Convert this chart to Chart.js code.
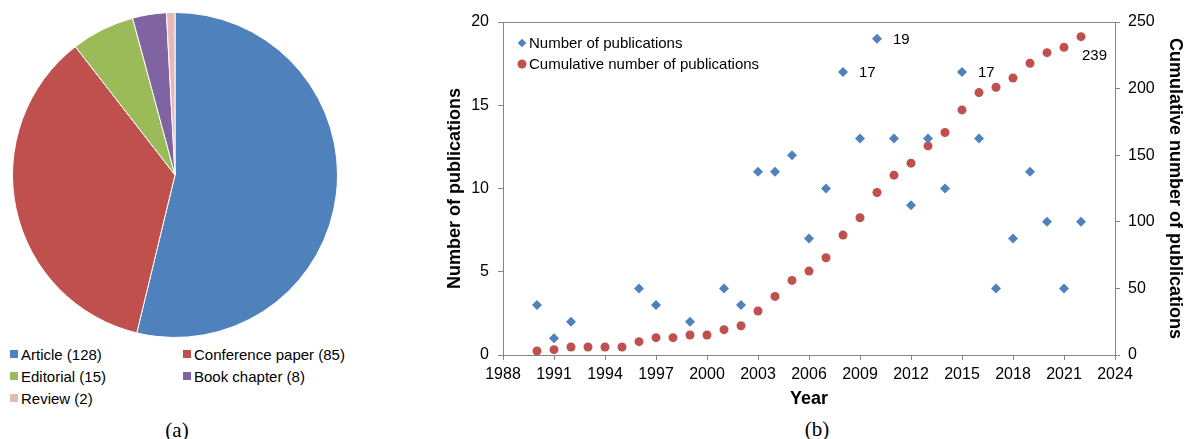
<!DOCTYPE html>
<html>
<head>
<meta charset="utf-8">
<script src="https://cdn.jsdelivr.net/npm/chart.js@4.4.1/dist/chart.umd.min.js"></script>
<style>
  html, body { margin: 0; padding: 0; background: #fff; }
  body { width: 1193px; height: 439px; position: relative; overflow: hidden; font-family: "Liberation Sans", Arial, sans-serif; }
  #pie { position: absolute; left: 12px; top: 12px; }
  #scatter { position: absolute; left: 440px; top: 0; }
  .leg { position: absolute; height: 18px; display: flex; align-items: center; font-size: 15px; color: #000; white-space: nowrap; }
  .sw { width: 8px; height: 8px; margin-right: 3px; flex: none; }
  .cap { position: absolute; font-family: "Liberation Serif", "Times New Roman", serif; font-size: 21px; color: #000; transform: translate(-50%, -50%); white-space: nowrap; }
</style>
</head>
<body>
<canvas id="pie" width="326" height="326" style="width:326px;height:326px"></canvas>
<canvas id="scatter" width="750" height="414" style="width:750px;height:414px"></canvas>
<div id="pieLegend"></div>
<div class="cap" style="left:177px;top:430px">(a)</div>
<div class="cap" style="left:817px;top:429px">(b)</div>
<script>
// ---------- data ----------
const pieLabels = ['Article', 'Conference paper', 'Editorial', 'Book chapter', 'Review'];
const pieValues = [128, 85, 15, 8, 2];
const pieColors = ['#4F81BD', '#C0504D', '#9BBB59', '#8064A2', '#E6B9B8'];

const years = [1990, 1991, 1992, 1993, 1994, 1995, 1996, 1997, 1998, 1999, 2000, 2001, 2002,
               2003, 2004, 2005, 2006, 2007, 2008, 2009, 2010, 2011, 2012, 2013, 2014, 2015,
               2016, 2017, 2018, 2019, 2020, 2021, 2022];
const publications = [3, 1, 2, null, null, null, 4, 3, null, 2, null, 4, 3,
                      11, 11, 12, 7, 10, 17, 13, 19, 13, 9, 13, 10, 17,
                      13, 4, 7, 11, 8, 4, 8];
const cumulative = [3, 4, 6, 6, 6, 6, 10, 13, 13, 15, 15, 19, 22,
                    33, 44, 56, 63, 73, 90, 103, 122, 135, 144, 157, 167, 184,
                    197, 201, 208, 219, 227, 231, 239];
const seriesNames = ['Number of publications', 'Cumulative number of publications'];
const xTicks = { min: 1988, max: 2024, step: 3 };
const yTicks = { min: 0, max: 20, step: 5 };
const y1Ticks = { min: 0, max: 250, step: 50 };
const labeledPoints = [ { ds: 0, year: 2008 }, { ds: 0, year: 2010 }, { ds: 0, year: 2015 }, { ds: 1, year: 2022 } ];

const FONT = '"Liberation Sans", Arial, sans-serif';
const AXIS = '#868686';
const BLUE = '#4F81BD';
const RED = '#C0504D';

// ---------- pie legend (HTML text) ----------
const legendBox = document.getElementById('pieLegend');
const legCols = [10, 183];
const legRows = [354, 376, 398];
pieLabels.forEach((lab, i) => {
  const d = document.createElement('div');
  d.className = 'leg';
  d.style.left = legCols[i % 2] + 'px';
  d.style.top = (legRows[Math.floor(i / 2)] - 9) + 'px';
  const s = document.createElement('span');
  s.className = 'sw';
  s.style.background = pieColors[i];
  d.appendChild(s);
  d.appendChild(document.createTextNode(lab + ' (' + pieValues[i] + ')'));
  legendBox.appendChild(d);
});

// ---------- pie chart ----------
new Chart(document.getElementById('pie'), {
  type: 'pie',
  data: {
    labels: pieLabels,
    datasets: [{ data: pieValues, backgroundColor: pieColors, borderColor: '#ffffff', borderWidth: 1 }]
  },
  options: {
    responsive: false, animation: false, devicePixelRatio: 1,
    layout: { padding: 0 },
    plugins: { legend: { display: false }, tooltip: { enabled: false } }
  }
});

// ---------- scatter chart ----------
const boxPlugin = {
  id: 'boxAndLabels',
  afterDatasetsDraw(chart) {
    const { ctx, chartArea: a, scales } = chart;
    ctx.save();
    // top frame line
    ctx.strokeStyle = AXIS;
    ctx.lineWidth = 1;
    ctx.beginPath();
    ctx.moveTo(a.left, Math.round(a.top) + 0.5);
    ctx.lineTo(a.right, Math.round(a.top) + 0.5);
    ctx.stroke();

    // data labels
    ctx.fillStyle = '#000';
    ctx.font = '15px ' + FONT;
    ctx.textBaseline = 'middle';
    ctx.textAlign = 'left';
    labeledPoints.forEach(p => {
      const idx = years.indexOf(p.year);
      const val = p.ds === 0 ? publications[idx] : cumulative[idx];
      const px = scales.x.getPixelForValue(p.year);
      const py = scales[p.ds === 0 ? 'y' : 'y1'].getPixelForValue(val);
      if (p.ds === 0) ctx.fillText(String(val), px + 16, py + 1);
      else ctx.fillText(String(val), px + 1, py + 19);
    });

    // in-plot legend
    const lx = a.left + 19, ly0 = a.top + 21, ly1 = a.top + 42;
    ctx.fillStyle = BLUE;
    ctx.beginPath();
    ctx.moveTo(lx, ly0 - 4.3); ctx.lineTo(lx + 4.3, ly0); ctx.lineTo(lx, ly0 + 4.3); ctx.lineTo(lx - 4.3, ly0);
    ctx.closePath(); ctx.fill();
    ctx.fillStyle = RED;
    ctx.beginPath(); ctx.arc(lx, ly1, 4.5, 0, Math.PI * 2); ctx.fill();
    ctx.fillStyle = '#000';
    ctx.fillText(seriesNames[0], lx + 7, ly0 + 1);
    ctx.fillText(seriesNames[1], lx + 7, ly1 + 1);
    ctx.restore();
  }
};

const tickFont = { family: FONT, size: 16 };
const titleFont = { family: FONT, size: 18, weight: 'bold' };
const gridCfg = { drawOnChartArea: false, drawTicks: true, tickLength: 5, color: AXIS };
const borderCfg = { display: true, color: AXIS, width: 1 };

new Chart(document.getElementById('scatter'), {
  type: 'scatter',
  data: {
    datasets: [
      {
        label: seriesNames[0],
        data: years.map((y, i) => ({ x: y, y: publications[i] })),
        yAxisID: 'y',
        pointStyle: 'rectRot', pointRadius: 5, pointHoverRadius: 5,
        backgroundColor: BLUE, borderColor: BLUE, borderWidth: 0
      },
      {
        label: seriesNames[1],
        data: years.map((y, i) => ({ x: y, y: cumulative[i] })),
        yAxisID: 'y1',
        pointStyle: 'circle', pointRadius: 4.5, pointHoverRadius: 4.5,
        backgroundColor: RED, borderColor: RED, borderWidth: 0
      }
    ]
  },
  options: {
    responsive: false, animation: false, devicePixelRatio: 1,
    layout: { padding: { top: 22, left: 0, right: 0, bottom: 0 } },
    plugins: { legend: { display: false }, tooltip: { enabled: false } },
    scales: {
      x: {
        type: 'linear', position: 'bottom', min: xTicks.min, max: xTicks.max,
        ticks: { stepSize: xTicks.step, color: '#000', font: tickFont, padding: 5, maxRotation: 0, autoSkip: false, callback: v => String(v) },
        grid: gridCfg, border: borderCfg,
        title: { display: true, text: 'Year', color: '#000', font: titleFont },
        afterFit: s => { s.height = 59; }
      },
      y: {
        type: 'linear', position: 'left', min: yTicks.min, max: yTicks.max,
        ticks: { stepSize: yTicks.step, color: '#000', font: tickFont, padding: 9, callback: v => String(v) },
        grid: gridCfg, border: borderCfg,
        title: { display: true, text: 'Number of publications', color: '#000', font: titleFont },
        afterFit: s => { s.width = 63; }
      },
      y1: {
        type: 'linear', position: 'right', min: y1Ticks.min, max: y1Ticks.max,
        ticks: { stepSize: y1Ticks.step, color: '#000', font: tickFont, padding: 8, callback: v => String(v) },
        grid: gridCfg, border: borderCfg,
        title: { display: true, text: 'Cumulative number of publications', color: '#000', font: titleFont },
        afterFit: s => { s.width = 75; }
      }
    }
  },
  plugins: [boxPlugin]
});
</script>
</body>
</html>
